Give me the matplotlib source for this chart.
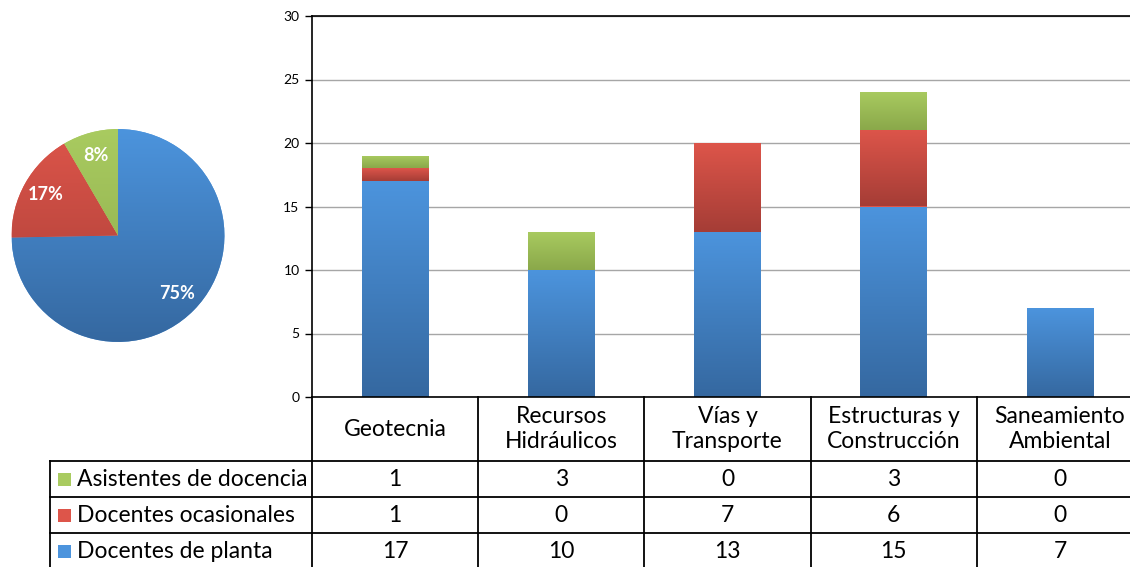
import numpy as np
import matplotlib
matplotlib.use('Agg')
import matplotlib.pyplot as plt
from matplotlib.colors import LinearSegmentedColormap
from matplotlib.patches import Rectangle

plt.rcParams['font.family'] = ['Lato', 'DejaVu Sans']

categories = ['Geotecnia', 'Recursos\nHidráulicos', 'Vías y\nTransporte',
              'Estructuras y\nConstrucción', 'Saneamiento\nAmbiental']
planta = [17, 10, 13, 15, 7]
ocasionales = [1, 0, 7, 6, 0]
asistentes = [1, 3, 0, 3, 0]
row_names = ['Asistentes de docencia', 'Docentes ocasionales', 'Docentes de planta']
yticks = [0, 5, 10, 15, 20, 25, 30]

# (top, bottom) colours of each gradient
BLUE = ('#4c94dd', '#3568a0')
RED = ('#dd554a', '#a53d36')
GREEN = ('#a9cb60', '#8aa84a')

W, H = 1130, 567


def px_box(left, top, right, bottom):
    # pixel box (from top-left) -> figure fraction rect
    return [left / W, (H - bottom) / H, (right - left) / W, (bottom - top) / H]


def gradient_fill(ax, patch, colors, extent):
    cmap = LinearSegmentedColormap.from_list('g', [colors[1], colors[0]])
    grad = np.linspace(0, 1, 256).reshape(-1, 1)
    im = ax.imshow(grad, extent=extent, origin='lower', cmap=cmap,
                   aspect='auto', zorder=patch.get_zorder() + 0.1, interpolation='bilinear')
    im.set_clip_path(patch)


fig = plt.figure(figsize=(W / 100, H / 100), dpi=100)

# ---- pie of totals
pax = fig.add_axes(px_box(10, 128, 226, 343))
totals = [sum(planta), sum(ocasionales), sum(asistentes)]
pie_colors = [BLUE, RED, GREEN]
wedges, _, autotexts = pax.pie(totals, colors=[c[0] for c in pie_colors], startangle=90,
                               counterclock=False, autopct='%1.0f%%', pctdistance=0.78,
                               radius=1.0, wedgeprops=dict(linewidth=0))
for w, c in zip(wedges, pie_colors):
    gradient_fill(pax, w, c, [-1, 1, -1, 1])
for t in autotexts:
    t.set_color('white')
    t.set_fontweight('bold')
    t.set_fontsize(13)
    t.set_zorder(5)
pax.set_xlim(-1.01, 1.01)
pax.set_ylim(-1.01, 1.01)
pax.set_aspect('equal')
pax.axis('off')

# ---- stacked bars
ax = fig.add_axes(px_box(312, 16, 1143, 397))
x = np.arange(len(categories))
bw = 0.4
stacks = [(planta, BLUE), (ocasionales, RED), (asistentes, GREEN)]
bottom = np.zeros(len(categories))
for vals, col in stacks:
    bars = ax.bar(x, vals, bw, bottom=bottom, color=col[0], linewidth=0, zorder=2)
    for b in bars:
        if b.get_height() > 0:
            gradient_fill(ax, b, col, [b.get_x(), b.get_x() + b.get_width(),
                                       b.get_y(), b.get_y() + b.get_height()])
    bottom += np.array(vals)

ax.set_xlim(-0.5, len(categories) - 0.5)
ax.set_ylim(0, 30)
ax.set_yticks(yticks)
ax.set_xticks([])
ax.yaxis.grid(True, color='#a6a6a6', linewidth=1, zorder=0)
ax.set_axisbelow(True)
ax.tick_params(axis='y', direction='out', length=5, width=1, labelsize=10, pad=4)
for s in ['left', 'top', 'bottom']:
    ax.spines[s].set_color('black')
    ax.spines[s].set_linewidth(1.2)
ax.spines['right'].set_visible(False)

# ---- data table below the bars
tax = fig.add_axes(px_box(312, 397, 1143, 567))
tax.set_xlim(-0.5, len(categories) - 0.5)
tax.set_ylim(170, 0)
tax.axis('off')
unit = 831 / len(categories)
label_left = -0.5 - (312 - 50) / unit
head_h, row_h = 64, 36
lw = 1.3
fs = 16.5

for b in np.arange(-0.5, len(categories)):
    tax.plot([b, b], [0, 175], color='black', lw=lw, clip_on=False)
tax.plot([label_left, label_left], [head_h, 175], color='black', lw=lw, clip_on=False)
for r in range(3):
    yy = head_h + r * row_h
    tax.plot([label_left, len(categories) - 0.5], [yy, yy], color='black', lw=lw, clip_on=False)

for i, c in enumerate(categories):
    tax.text(i, head_h / 2, c, ha='center', va='center', fontsize=fs, linespacing=1.2)

rows = [(asistentes, GREEN), (ocasionales, RED), (planta, BLUE)]
for r, ((vals, col), name) in enumerate(zip(rows, row_names)):
    yc = head_h + r * row_h + row_h / 2
    sq = 13 / unit
    tax.add_patch(Rectangle((label_left + 8 / unit, yc - 6.5), sq, 13,
                            facecolor=col[0], edgecolor='none', clip_on=False))
    tax.text(label_left + 27 / unit, yc, name, ha='left', va='center', fontsize=fs)
    for i, v in enumerate(vals):
        tax.text(i, yc, str(v), ha='center', va='center', fontsize=fs)

fig.savefig('out.png', dpi=100)
